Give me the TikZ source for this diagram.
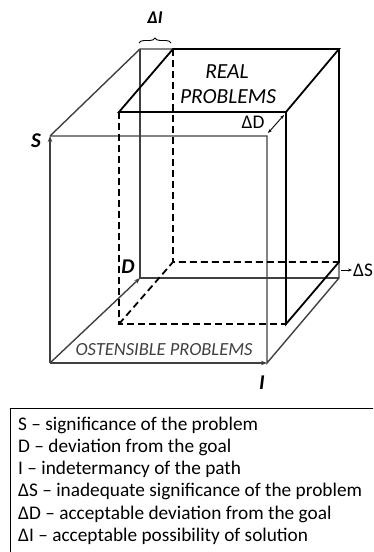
\documentclass[tikz,border=0pt]{standalone}
\usepackage{fontspec}
\setmainfont{Carlito}
\usetikzlibrary{arrows.meta,decorations.pathreplacing}
\definecolor{ostgray}{RGB}{64,64,64}

\begin{document}
\begin{tikzpicture}[x=1pt, y=-1pt,
    ost/.style={draw=ostgray, line width=1.4pt},
    real/.style={draw=black, line width=1.8pt},
    hidden/.style={real, dash pattern=on 7pt off 4pt},
    axis/.style={ost, -{Stealth[length=6pt,width=4.5pt]}},
    lbl/.style={font=\fontsize{21}{24}\selectfont\bfseries\itshape},
    txt/.style={font=\fontsize{19.3}{22}\selectfont}]
  \useasboundingbox (0,0) rectangle (373,552);
  \clip (0,0) rectangle (373,552);
  % ostensible problems (outer box)
  \coordinate (O1) at (50,363);
  \coordinate (O2) at (267,363);
  \coordinate (O3) at (267,136);
  \coordinate (O4) at (50,136);
  \coordinate (O5) at (140,278);
  \coordinate (O6) at (339,278);
  \coordinate (O7) at (339,49);
  \coordinate (O8) at (140,49);
  % real problems (inner box)
  \coordinate (R1) at (119,324);
  \coordinate (R2) at (286,324);
  \coordinate (R3) at (286,112);
  \coordinate (R4) at (119,112);
  \coordinate (R5) at (173,262);
  \coordinate (R6) at (339,262);
  \coordinate (R8) at (173,49);
  % outer edges
  \draw[ost] (O4) -- (O3) -- (O2) -- (O6) -- (O7);
  \draw[ost] (O4) -- (O8) -- (R8);
  \draw[ost] (O8) -- (O5) -- (O6);
  \draw[axis] (O1) -- (O4);
  \draw[axis] (O1) -- (O2);
  \draw[axis] (O1) -- (O5);
  % inner edges
  \draw[hidden] (R4) -- (R1) -- (R2);
  \draw[hidden] (R1) -- (R5) -- (R6);
  \draw[hidden] (R8) -- (R5);
  \draw[real] (R4) -- (R3) -- (O7) -- (R8) -- cycle;
  \draw[real] (R3) -- (R2) -- (R6) -- (O7);
  % delta marks
  \draw[line width=0.9pt, {Stealth[length=4pt,width=3pt]}-{Stealth[length=4pt,width=3pt]}]
    (284,115) -- (268,133);
  \coordinate (dS) at (341,270);
  \draw[line width=0.9pt, -{Stealth[length=4pt,width=3pt]}] (dS) -- (352,270);
  \draw[line width=0.9pt, decorate, decoration={brace, amplitude=5pt}]
    (139,43) -- (171,43);
  % labels
  \node[lbl] (S) at (36,141) {S};
  \node[lbl] (D) at (128,267) {D};
  \node[lbl] (I) at (262,383) {I};
  \node[lbl, font=\fontsize{18}{20}\selectfont\bfseries\itshape] (dI) at (155,18) {ΔI};
  \node[txt, font=\fontsize{21.5}{24}\selectfont\itshape] (real) at (227,72) {REAL};
  \node[txt, font=\fontsize{21.5}{24}\selectfont\itshape] (realb) at (228,97) {PROBLEMS};
  \node[txt] (dD) at (253,122) {ΔD};
  \node[txt, anchor=west, inner sep=1pt] (dSl) at (352,270) {ΔS};
  \node[txt, font=\fontsize{18.5}{22}\selectfont\itshape, text=ostgray] (ost) at (164,350) {OSTENSIBLE PROBLEMS};
  % legend
  \draw[line width=1pt] (10,408) rectangle (400,600);
  \foreach \t [count=\i] in {S – significance of the problem,
      D – deviation from the goal,
      I – indetermancy of the path,
      ΔS – inadequate significance of the problem,
      ΔD – acceptable deviation from the goal,
      ΔI – acceptable possibility of solution}
    \node[txt, anchor=base west, inner sep=0pt] (leg\i) at (18,{430+22.3*(\i-1)}) {\t};
\end{tikzpicture}
\end{document}
